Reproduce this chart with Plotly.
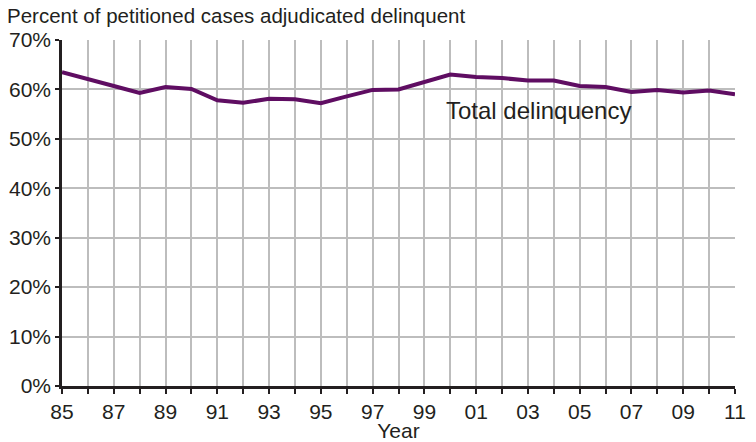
import plotly.graph_objects as go

years = list(range(1985, 2012))
pct_delinquent = [63.5, 62.0, 60.7, 59.3, 60.5, 60.1, 57.8, 57.3, 58.1, 58.0,
                  57.2, 58.6, 59.9, 60.0, 61.4, 63.0, 62.5, 62.3, 61.8, 61.8,
                  60.7, 60.5, 59.5, 59.9, 59.4, 59.8, 59.0]
tick_text = [f"{y % 100:02d}" if (y - 1985) % 2 == 0 else "" for y in years]
y_ticks = [0, 10, 20, 30, 40, 50, 60, 70]
y_labels = [f"{v}%" for v in y_ticks]

font = "Liberation Sans, Arial, Helvetica, sans-serif"
ink = "#231f20"

fig = go.Figure()
fig.add_trace(go.Scatter(
    x=years, y=pct_delinquent, mode="lines",
    line=dict(color="#5f0d62", width=4),
    hoverinfo="x+y", showlegend=False,
))

fig.add_annotation(
    x=1999.75, y=55.7, text="Total delinquency", showarrow=False,
    xanchor="left", yanchor="middle",
    font=dict(family=font, size=24, color=ink),
)
fig.add_annotation(
    xref="paper", yref="paper", x=-0.085, y=1.032,
    text="Percent of petitioned cases adjudicated delinquent",
    showarrow=False, xanchor="left", yanchor="bottom",
    font=dict(family=font, size=20.5, color=ink),
)

fig.update_layout(
    width=756, height=442,
    margin=dict(l=62, r=21, t=40, b=56),
    paper_bgcolor="white", plot_bgcolor="white",
    font=dict(family=font, size=21, color=ink),
    xaxis=dict(
        range=[1985, 2011], tickvals=years, ticktext=tick_text,
        showgrid=True, gridcolor="#bdbdbd", gridwidth=2,
        showline=True, linecolor=ink, linewidth=2.5,
        ticks="outside", ticklen=5, tickwidth=1.5, tickcolor=ink,
        zeroline=False, automargin=False,
        title=dict(text="Year", standoff=0, font=dict(size=21)),
    ),
    yaxis=dict(
        range=[0, 70], tickvals=y_ticks, ticktext=y_labels,
        showgrid=True, gridcolor="#bdbdbd", gridwidth=2,
        showline=True, linecolor=ink, linewidth=2.5,
        ticks="outside", ticklen=4, tickwidth=1.5, tickcolor=ink,
        zeroline=False, automargin=False,
    ),
)

fig.write_html("out.html")
